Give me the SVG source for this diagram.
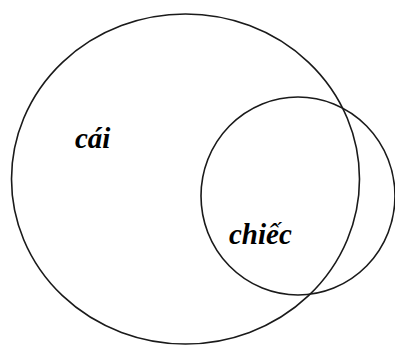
<svg xmlns="http://www.w3.org/2000/svg" width="395" height="345" viewBox="0 0 395 345">
<style>
.c{fill:none;stroke:#1a1a1a;stroke-width:1.6}
.t{font-family:"Liberation Serif","Times New Roman",serif;font-style:italic;font-weight:bold;font-size:29px;fill:#000}
</style>
<rect width="395" height="345" fill="#fff"/>
<g id="cai">
<ellipse class="c" cx="185.5" cy="179" rx="174" ry="165"/>
<text class="t" x="75" y="148">cái</text>
</g>
<g id="chiec">
<ellipse class="c" cx="298" cy="196" rx="97" ry="99"/>
<text class="t" x="229" y="244">chiếc</text>
</g>
<g id="connectors"/>
</svg>
